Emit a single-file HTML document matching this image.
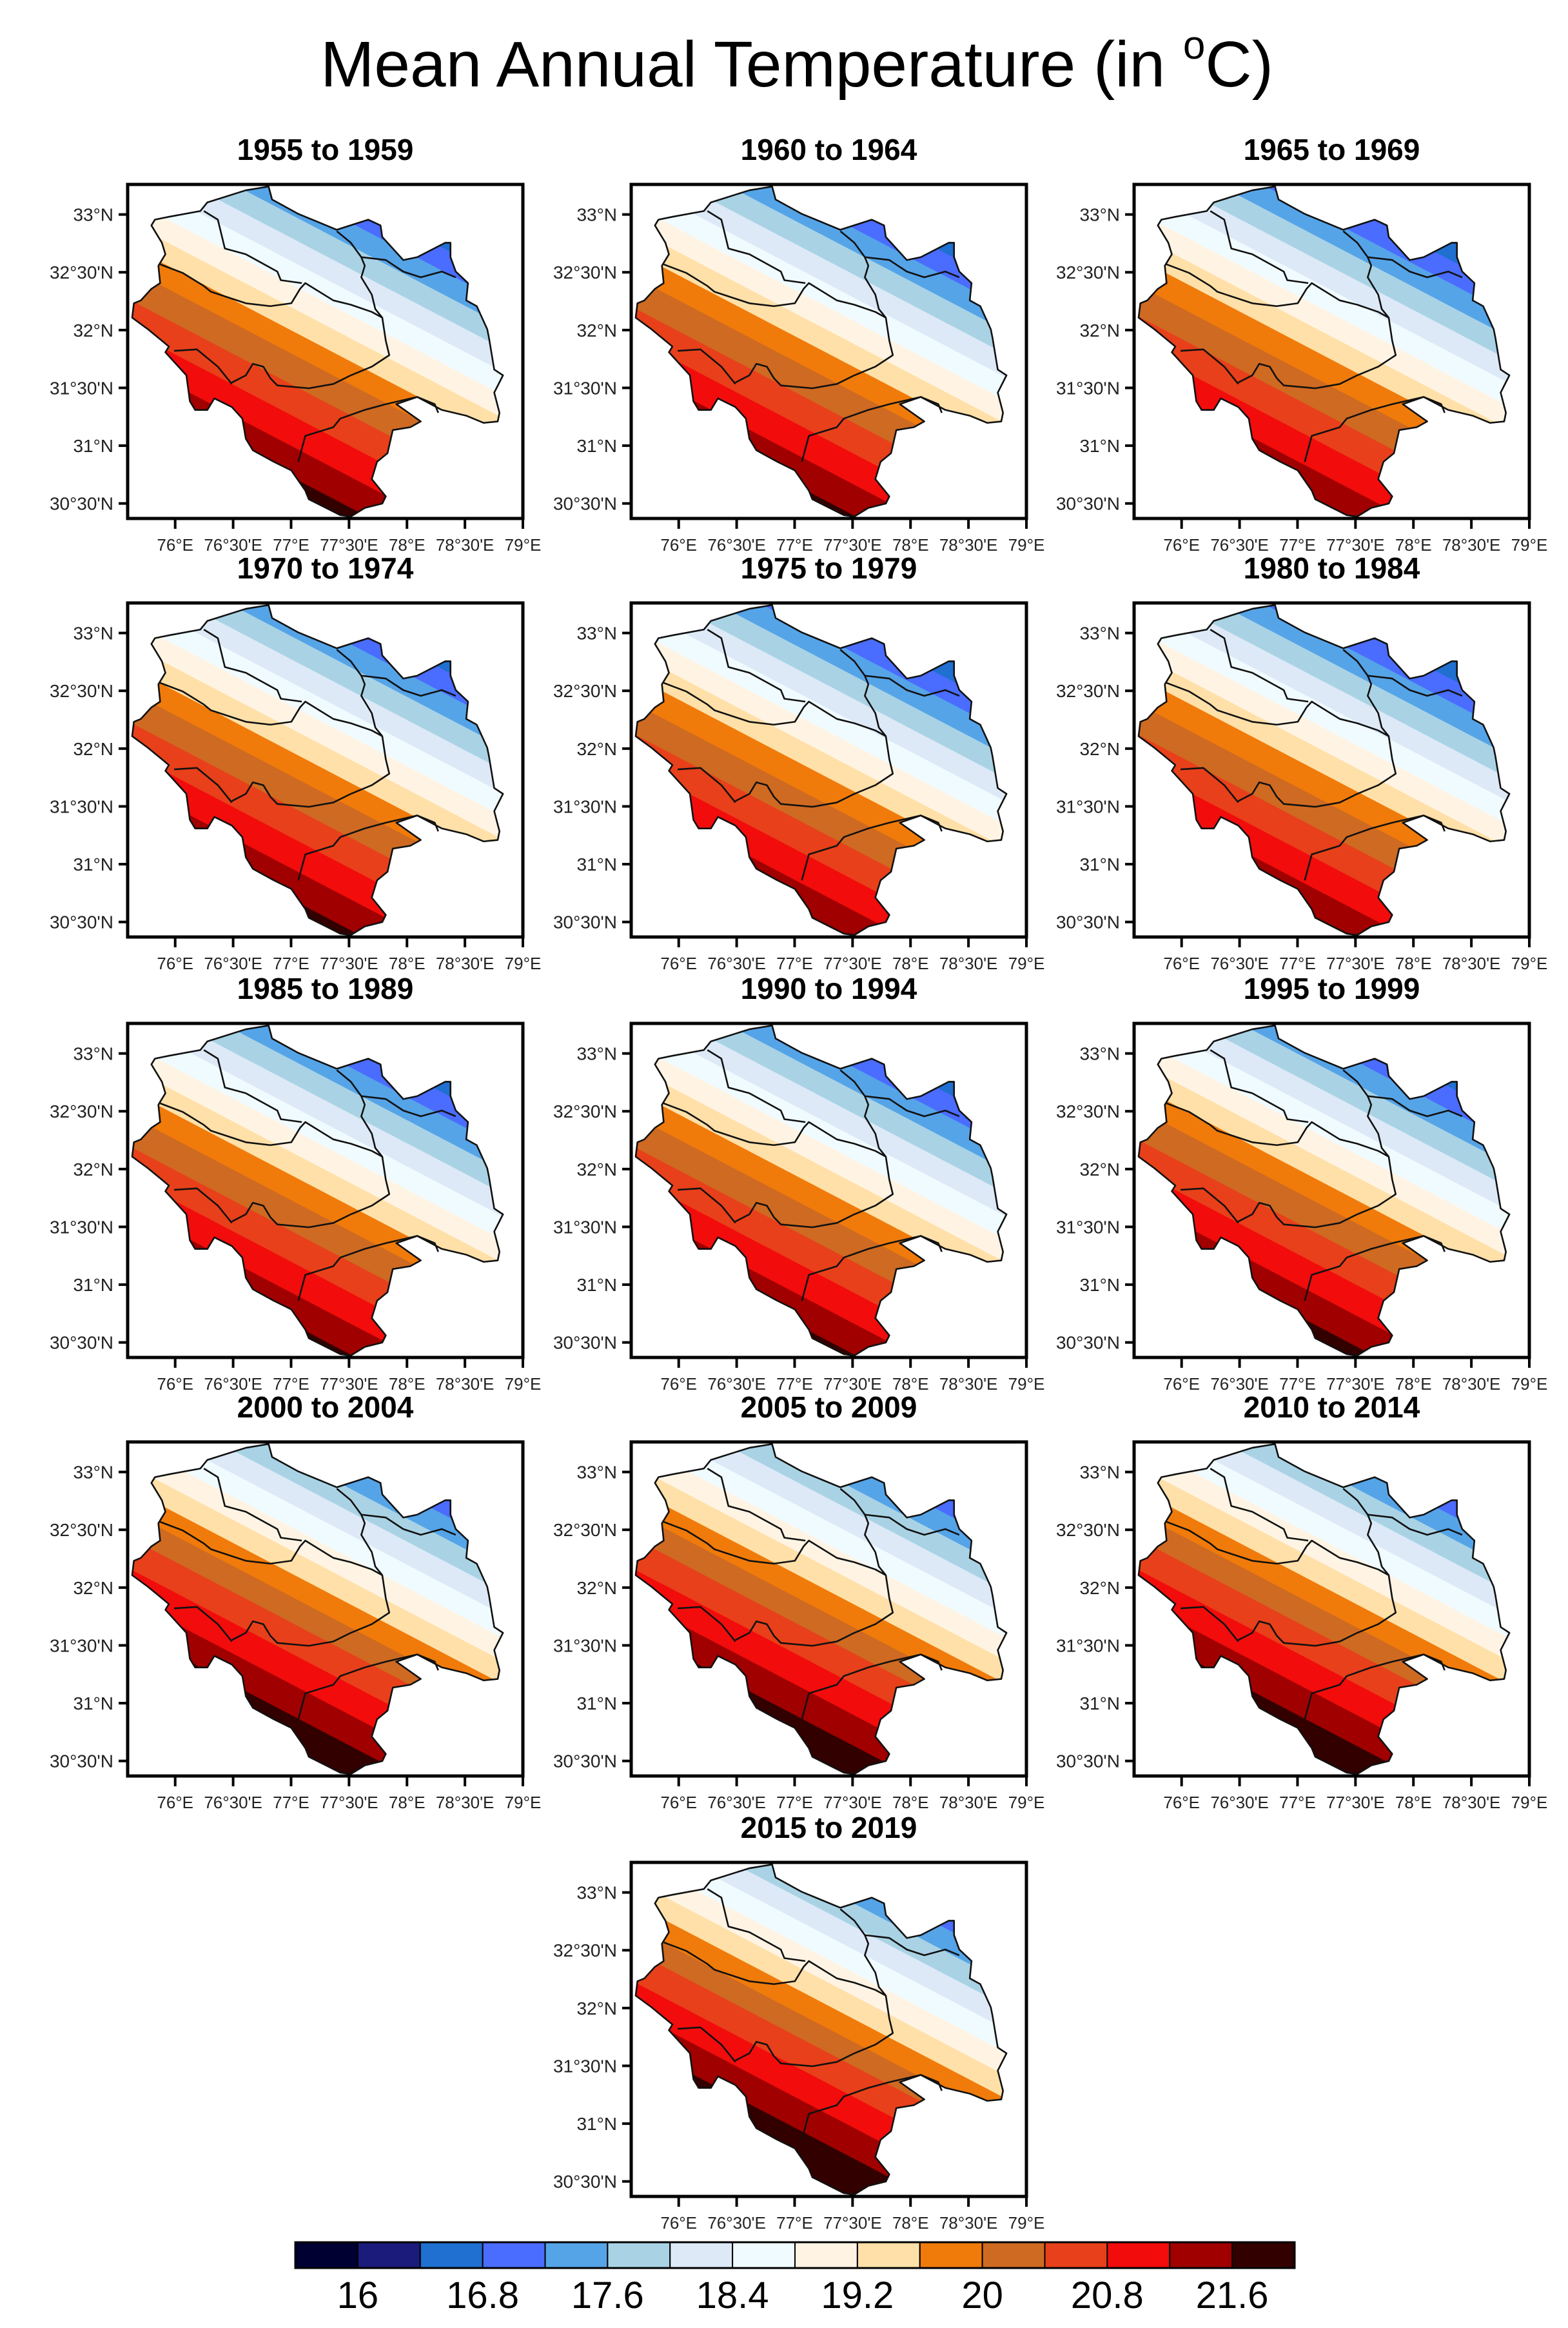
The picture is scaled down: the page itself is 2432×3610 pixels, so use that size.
<!DOCTYPE html>
<html><head><meta charset="utf-8"><style>
html,body{margin:0;padding:0;background:#fff;}
svg{display:block;font-family:"Liberation Sans",Arial,sans-serif;}
</style></head><body>
<svg id="fig" width="2432" height="3610" viewBox="0 0 2432 3610" xmlns="http://www.w3.org/2000/svg">
<text x="1236" y="134" font-size="100" text-anchor="middle" fill="#000">Mean Annual Temperature (in <tspan font-size="62" dy="-43">o</tspan><tspan dy="43">C)</tspan></text>
<g id="panels"></g>
<g id="cbar"></g>
</svg>
<script>
// ---- data ----
const panelTitles = ["1955 to 1959","1960 to 1964","1965 to 1969","1970 to 1974","1975 to 1979","1980 to 1984","1985 to 1989","1990 to 1994","1995 to 1999","2000 to 2004","2005 to 2009","2010 to 2014","2015 to 2019"];
const panelRefTemp = [20.0,19.9,19.8,19.95,19.8,19.8,19.9,19.9,20.0,20.25,20.25,20.25,20.35];
const levelBounds = [16,16.4,16.8,17.2,17.6,18,18.4,18.8,19.2,19.6,20,20.4,20.8,21.2,21.6];
const levelColors = ["#000033","#1b1b7c","#1f70d0","#4a6cff","#55a4e8","#a9d3e5","#dde9f7","#f0fbff","#fff4e4","#ffe0a8","#f07b0a","#cf6a22","#e8401a","#f20c0c","#a00000","#330000"];
const cbarLabels = ["16","16.8","17.6","18.4","19.2","20","20.8","21.6"];
const latTicks = [33,32.5,32,31.5,31,30.5];
const latLabels = ["33°N","32°30'N","32°N","31°30'N","31°N","30°30'N"];
const lonTicks = [76,76.5,77,77.5,78,78.5,79];
const lonLabels = ["76°E","76°30'E","77°E","77°30'E","78°E","78°30'E","79°E"];

// geometry
const NS="http://www.w3.org/2000/svg";
const LON0=75.59,LON1=79.0,LAT0=30.37,LAT1=33.26,FW=613,FH=518;
const colX=[198,979,1759], rowY=[286,935,1587,2236,2888];
const zl=(x)=>76+(x-498)/331.3, zt=(y)=>33-(y-342)/401;
const outlineZ=[[590,300],[700,258],[765,245],[775,290],[850,340],[960,395],[1050,360],[1085,380],[1090,420],[1150,500],[1190,490],[1270,440],[1285,440],[1285,490],[1300,540],[1335,580],[1330,640],[1360,660],[1390,740],[1395,770],[1410,880],[1435,900],[1410,960],[1425,1030],[1420,1060],[1380,1065],[1330,1040],[1260,1020],[1190,975],[1130,1000],[1200,1060],[1170,1080],[1120,1090],[1105,1170],[1075,1200],[1060,1260],[1100,1320],[1090,1345],[1040,1360],[1000,1390],[970,1385],[880,1330],[870,1300],[830,1230],[780,1200],[720,1160],[700,1120],[690,1050],[660,1010],[610,980],[590,1020],[555,1020],[540,990],[530,900],[470,820],[480,800],[420,740],[375,700],[380,650],[400,640],[430,600],[455,580],[450,520],[470,480],[460,440],[430,380],[440,360],[480,350],[570,330]];
const linesZ=[
 [[455,515],[520,545],[580,590],[600,610],[700,650],[770,660],[830,650],[855,600],[870,580],[950,640],[1000,655],[1060,680],[1090,700],[1100,780],[1110,830],[1060,870],[1000,900],[950,930],[880,945],[790,935],[770,910],[750,870],[720,860],[700,900],[660,925]],
 [[580,330],[620,360],[640,460],[700,480],[790,540],[800,570],[860,580]],
 [[960,400],[1000,440],[1030,490],[1040,520],[1030,560],[1060,620],[1070,670],[1090,700]],
 [[1030,490],[1100,500],[1150,540],[1200,560],[1260,540],[1300,560]],
 [[495,815],[560,810],[620,870],[660,930]],
 [[850,1200],[870,1110],[950,1080],[970,1050],[1040,1020],[1100,1000],[1190,975],[1240,1000],[1250,1030]]
];
const SLOPE_UP=2.0, SLOPE_LO=1.5, SREF=72.22, KLON=0.525;

function el(tag,attrs,parent){const e=document.createElementNS(NS,tag);for(const k in attrs)e.setAttribute(k,attrs[k]);if(parent)parent.appendChild(e);return e;}

const root=document.getElementById('panels');
panelTitles.forEach((title,i)=>{
  let r=Math.floor(i/3), c=i%3; if(i===12){r=4;c=1;}
  const fx=colX[c], fy=rowY[r];
  const X=lon=>fx+(lon-LON0)/(LON1-LON0)*FW;
  const Y=lat=>fy+(LAT1-lat)/(LAT1-LAT0)*FH;
  const g=el('g',{},root);
  
  
  const t=el('text',{x:fx+FW/2,y:fy-38,'font-size':46,'font-weight':'bold','text-anchor':'middle'},g);
  
  
  t.textContent=title;
  const cid='clip'+i;
  const defs=el('defs',{},g);
  const cp=el('clipPath',{id:cid},defs);
  const pts=outlineZ.map(p=>X(zl(p[0]))+','+Y(zt(p[1]))).join(' ');
  el('polygon',{points:pts},cp);
  const bands=el('g',{'clip-path':'url(#'+cid+')'},g);
  
  
  const T0=panelRefTemp[i];
  const sOf=T=>{
    if(T<=-100) return 1e3; if(T>=100) return -1e3;
    return T<=T0 ? SREF-(T-T0)/SLOPE_UP : SREF-(T-T0)/SLOPE_LO;
  };
  const edges=[-1e3].concat(levelBounds).concat([1e3]);
  for(let k=0;k<levelColors.length;k++){
    const sHi=sOf(edges[k]), sLo=sOf(edges[k+1]);
    const a=75.3,b=79.3;
    const latAt=(s,lon)=>s-KLON*lon;
    const cl=v=>Math.max(29,Math.min(35,v));
    const poly=[[a,cl(latAt(sLo,a))],[b,cl(latAt(sLo,b))],[b,cl(latAt(sHi,b))],[a,cl(latAt(sHi,a))]];
    const p=el('polygon',{points:poly.map(q=>X(q[0])+','+Y(q[1])).join(' '),fill:levelColors[k],stroke:levelColors[k],'stroke-width':1},bands);
    
    
  }
  const ol=el('polygon',{points:pts,fill:'none',stroke:'#111','stroke-width':2.6,'stroke-linejoin':'round'},g);
  
  
  linesZ.forEach(L=>{
    const pl=el('polyline',{points:L.map(p=>X(zl(p[0]))+','+Y(zt(p[1]))).join(' '),fill:'none',stroke:'#111','stroke-width':2.6,'stroke-linejoin':'round'},g);
    
    
  });
  const fr=el('rect',{x:fx,y:fy,width:FW,height:FH,fill:'none',stroke:'#000','stroke-width':5},g);
  
  
  latTicks.forEach((v,j)=>{
    el('line',{x1:fx-14,x2:fx,y1:Y(v),y2:Y(v),stroke:'#000','stroke-width':4},g);
    const tl=el('text',{x:fx-22,y:Y(v)+10,'font-size':28,'text-anchor':'end',fill:'#222'},g);
    
    
    tl.textContent=latLabels[j];
  });
  lonTicks.forEach((v,j)=>{
    el('line',{x1:X(v),x2:X(v),y1:fy+FH,y2:fy+FH+16,stroke:'#000','stroke-width':4},g);
    const tl=el('text',{x:X(v),y:fy+FH+50,'font-size':26,'text-anchor':'middle',fill:'#222'},g);
    
    
    tl.textContent=lonLabels[j];
  });
});

// colorbar
const cb=document.getElementById('cbar');
const CBX=458,CBY=3477,CBW=1550,CBH=40,bw=CBW/levelColors.length;
levelColors.forEach((col,k)=>{
  const r=el('rect',{x:CBX+k*bw,y:CBY,width:bw,height:CBH,fill:col,stroke:'#000','stroke-width':2},cb);
  
  
});
el('rect',{x:CBX,y:CBY,width:CBW,height:CBH,fill:'none',stroke:'#000','stroke-width':3},cb);
cbarLabels.forEach((lab,j)=>{
  const xb=CBX+(1+2*j)*bw;
  const t=el('text',{x:xb,y:CBY+CBH+62,'font-size':58,'text-anchor':'middle',fill:'#000'},cb);
  
  
  t.textContent=lab;
});
</script>
</body></html>
